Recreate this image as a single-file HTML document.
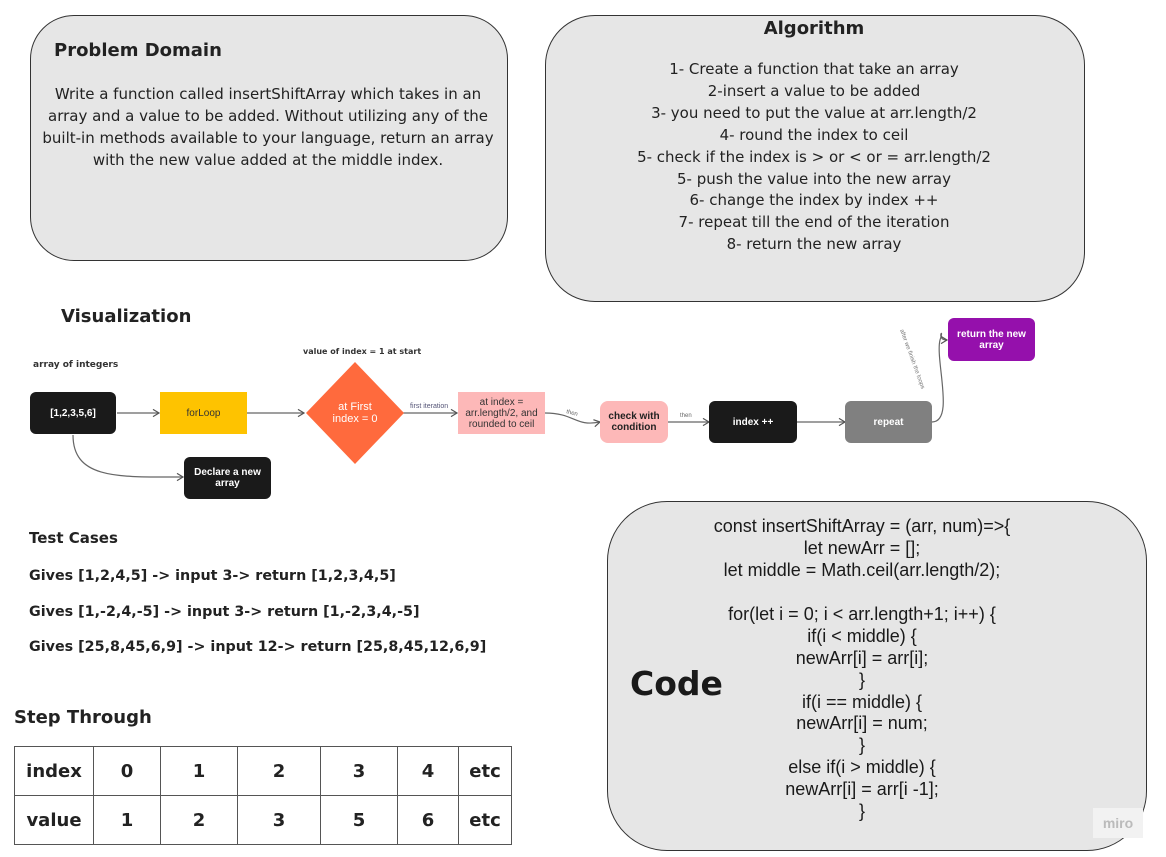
<!DOCTYPE html>
<html><head><meta charset="utf-8"><style>
body{margin:0;width:1166px;height:857px;background:#fff;position:relative;overflow:hidden;font-family:"Liberation Sans",Arial,sans-serif;}
.a{position:absolute;}
.box{position:absolute;background:#e6e6e6;border:1px solid #333;}
.os{font-family:"DejaVu Sans","Liberation Sans",sans-serif;}
.n{position:absolute;display:flex;align-items:center;justify-content:center;text-align:center;font-size:10px;border-radius:6px;}
.c{position:absolute;left:592px;width:540px;text-align:center;font-size:18px;color:#1a1a1a;white-space:nowrap}
td{border:1px solid #555;text-align:center;font-size:18px;font-weight:bold;color:#222;height:48px;padding:0}
</style></head><body>
<div class="box" style="left:30px;top:15px;width:476px;height:244px;border-radius:44px"></div>
<div class="a os" style="left:54px;top:40px;font-size:18px;font-weight:bold;color:#222">Problem Domain</div>
<div class="a os" style="left:40px;top:83px;width:456px;text-align:center;font-size:15px;line-height:22px;color:#222">Write a function called insertShiftArray which takes in an array and a value to be added. Without utilizing any of the built-in methods available to your language, return an array with the new value added at the middle index.</div>

<div class="box" style="left:545px;top:15px;width:538px;height:285px;border-radius:50px"></div>
<div class="a os" style="left:545px;top:18px;width:538px;text-align:center;font-size:18px;font-weight:bold;color:#222">Algorithm</div>
<div class="a os" style="left:545px;top:59px;width:538px;text-align:center;font-size:15px;line-height:21.9px;color:#222">1- Create a function that take an array<br>2-insert a value to be added<br>3- you need to put the value at arr.length/2<br>4- round the index to ceil<br>5- check if the index is &gt; or &lt; or = arr.length/2<br>5- push the value into the new array<br>6- change the index by index ++<br>7- repeat till the end of the iteration<br>8- return the new array</div>

<div class="a os" style="left:61px;top:306px;font-size:18px;font-weight:bold;color:#222">Visualization</div>
<div class="a os" style="left:33px;top:360px;font-size:9px;font-weight:bold;color:#333">array of integers</div>
<div class="a os" style="left:303px;top:347px;font-size:8px;font-weight:bold;color:#333">value of index = 1 at start</div>

<svg class="a" style="left:0;top:0" width="1166" height="857">
<defs><marker id="m" markerWidth="8" markerHeight="8" refX="6" refY="4" orient="auto"><path d="M1,1 L6,4 L1,7" fill="none" stroke="#555" stroke-width="1"/></marker></defs>
<g stroke="#666" stroke-width="1.2" fill="none" marker-end="url(#m)">
<path d="M117,413 H159"/>
<path d="M247,413 H304"/>
<path d="M402,413 H457"/>
<path d="M545,413 C575,413 575,427 600,422"/>
<path d="M668,422 H709"/>
<path d="M797,422 H845"/>
<path d="M73,435 C73,480 120,477 183,477"/>
<path d="M932,422 C955,422 935,360 940,340 C945,325 935,340 947,340"/>
</g>
<polygon points="355,362 404,413 355,464 306,413" fill="#ff6a3d"/>
<text x="410" y="408" font-size="7" fill="#557">first iteration</text>
<text x="566" y="413" font-size="6" fill="#666" transform="rotate(15 566 413)">then</text>
<text x="680" y="417" font-size="6" fill="#666">then</text>
<text x="900" y="330" font-size="6" fill="#777" transform="rotate(70 900 330)">after we finish the loops</text>
</svg>
<div class="n" style="left:30px;top:392px;width:86px;height:42px;background:#1a1a1a;color:#fff;font-weight:bold">[1,2,3,5,6]</div>
<div class="n" style="left:160px;top:392px;width:87px;height:42px;background:#fec300;color:#333;border-radius:0">forLoop</div>
<div class="n" style="left:320px;top:398px;width:70px;height:30px;color:#fff;font-size:11px">at First<br>index = 0</div>
<div class="n" style="left:458px;top:392px;width:87px;height:42px;background:#fdb8b8;color:#333;border-radius:0;line-height:11px">at index =<br>arr.length/2, and<br>rounded to ceil</div>
<div class="n" style="left:600px;top:401px;width:68px;height:42px;background:#fdb8b8;color:#222;font-weight:bold;border-radius:8px">check with<br>condition</div>
<div class="n" style="left:709px;top:401px;width:88px;height:42px;background:#1a1a1a;color:#fff;font-weight:bold">index ++</div>
<div class="n" style="left:845px;top:401px;width:87px;height:42px;background:#808080;color:#fff;font-weight:bold">repeat</div>
<div class="n" style="left:948px;top:318px;width:87px;height:43px;background:#9510ac;color:#fff;font-weight:bold">return the new<br>array</div>
<div class="n" style="left:184px;top:457px;width:87px;height:42px;background:#1a1a1a;color:#fff;font-weight:bold">Declare a new<br>array</div>

<div class="a os" style="left:29px;top:529px;font-size:15px;font-weight:bold;color:#222">Test Cases</div>
<div class="a os" style="left:29px;top:568px;font-size:14.3px;font-weight:bold;color:#222">Gives [1,2,4,5] -&gt; input 3-&gt; return [1,2,3,4,5]</div>
<div class="a os" style="left:29px;top:604px;font-size:14.3px;font-weight:bold;color:#222">Gives [1,-2,4,-5] -&gt; input 3-&gt; return [1,-2,3,4,-5]</div>
<div class="a os" style="left:29px;top:639px;font-size:14.3px;font-weight:bold;color:#222">Gives [25,8,45,6,9] -&gt; input 12-&gt; return [25,8,45,12,6,9]</div>
<div class="a os" style="left:14px;top:707px;font-size:18px;font-weight:bold;color:#222">Step Through</div>
<table class="a os" style="left:14px;top:746px;width:498px;border-collapse:collapse">
<tr><td style="width:78px">index</td><td style="width:66px">0</td><td style="width:76px">1</td><td style="width:82px">2</td><td style="width:76px">3</td><td style="width:60px">4</td><td>etc</td></tr>
<tr><td>value</td><td>1</td><td>2</td><td>3</td><td>5</td><td>6</td><td>etc</td></tr>
</table>

<div class="box" style="left:607px;top:501px;width:538px;height:348px;border-radius:60px"></div>
<div class="a os" style="left:630px;top:664px;font-size:33px;font-weight:bold;color:#1a1a1a">Code</div>
<div class="c" style="top:516px">const insertShiftArray = (arr, num)=&gt;{</div>
<div class="c" style="top:538px">let newArr = [];</div>
<div class="c" style="top:560px">let middle = Math.ceil(arr.length/2);</div>
<div class="c" style="top:604px">for(let i = 0; i &lt; arr.length+1; i++) {</div>
<div class="c" style="top:626px">if(i &lt; middle) {</div>
<div class="c" style="top:648px">newArr[i] = arr[i];</div>
<div class="c" style="top:670px">}</div>
<div class="c" style="top:692px">if(i == middle) {</div>
<div class="c" style="top:713px">newArr[i] = num;</div>
<div class="c" style="top:735px">}</div>
<div class="c" style="top:757px">else if(i &gt; middle) {</div>
<div class="c" style="top:779px">newArr[i] = arr[i -1];</div>
<div class="c" style="top:801px">}</div>
<div class="a" style="left:1093px;top:808px;width:50px;height:30px;background:#f2f2f2;color:#bbb;font-size:14px;font-weight:bold;text-align:center;line-height:30px">miro</div>
</body></html>
